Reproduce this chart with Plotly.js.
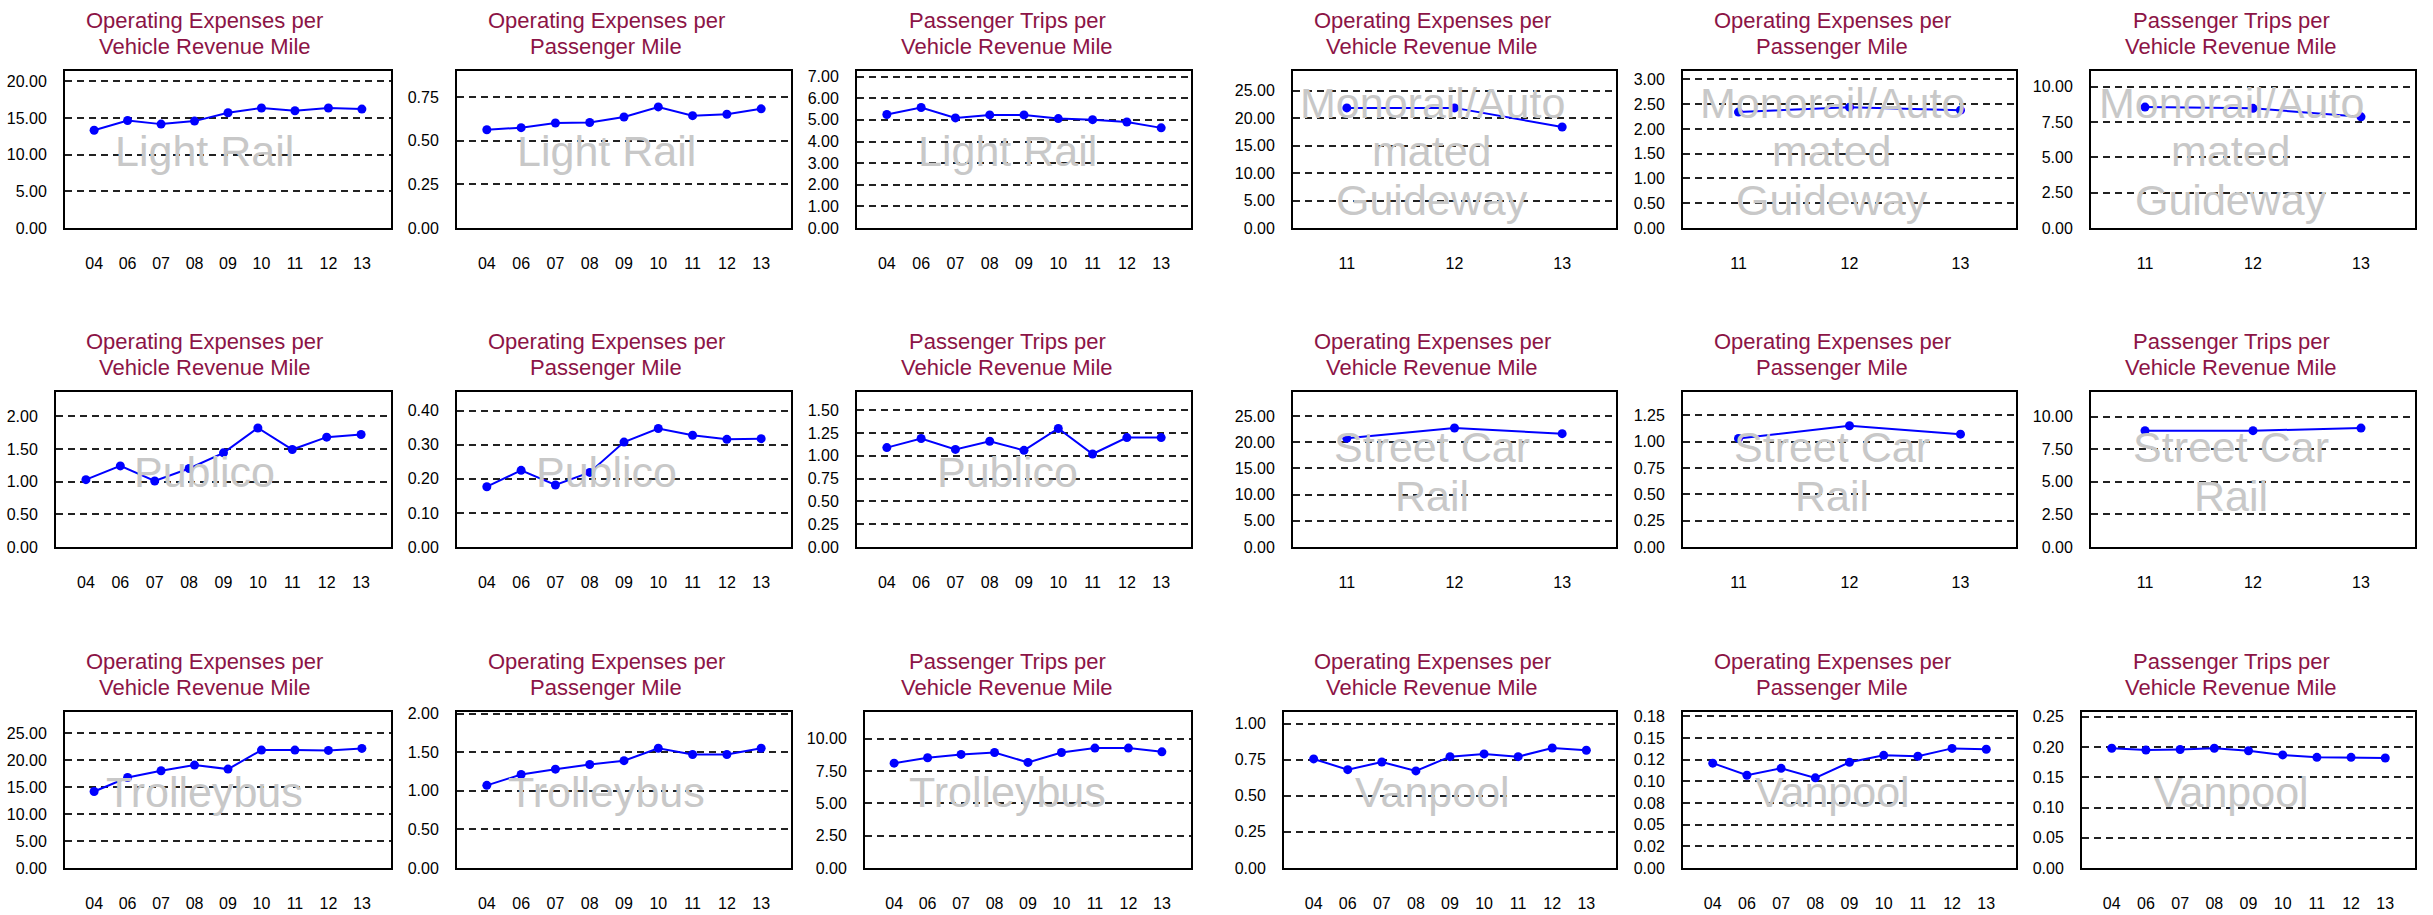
<!DOCTYPE html>
<html>
<head>
<meta charset="utf-8">
<script src="https://cdn.plot.ly/plotly-3.0.1.min.js"></script>
<style>html,body{margin:0;padding:0;background:#fff;}#chart{width:2433px;height:915px;}</style>
</head>
<body>
<div id="chart"></div>
<script>
// ---------------- DATA ----------------
const yearsFull = ["04", "06", "07", "08", "09", "10", "11", "12", "13"];
const yearsShort = ["11", "12", "13"];

const titleOpexVRM = ["Operating Expenses per", "Vehicle Revenue Mile"];
const titleOpexPM = ["Operating Expenses per", "Passenger Mile"];
const titleTrips = ["Passenger Trips per", "Vehicle Revenue Mile"];

const modeLightRail = ["Light Rail"];
const modeMonorail = ["Monorail/Auto", "mated", "Guideway"];
const modePublico = ["Publico"];
const modeStreetCar = ["Street Car", "Rail"];
const modeTrolleybus = ["Trolleybus"];
const modeVanpool = ["Vanpool"];

const lightRailOpexVRM = [13.33, 14.66, 14.16, 14.57, 15.71, 16.35, 15.98, 16.35, 16.21];
const lightRailOpexPM = [0.563, 0.575, 0.602, 0.605, 0.636, 0.694, 0.644, 0.652, 0.683];
const lightRailTrips = [5.25, 5.57, 5.09, 5.23, 5.23, 5.06, 5.01, 4.90, 4.63];

const monorailOpexVRM = [21.88, 21.88, 18.40];
const monorailOpexPM = [2.34, 2.44, 2.38];
const monorailTrips = [8.55, 8.46, 7.86];

const publicoOpexVRM = [1.03, 1.24, 1.01, 1.20, 1.44, 1.82, 1.49, 1.68, 1.72];
const publicoOpexPM = [0.177, 0.225, 0.182, 0.219, 0.308, 0.348, 0.328, 0.316, 0.318];
const publicoTrips = [1.09, 1.19, 1.07, 1.16, 1.06, 1.30, 1.02, 1.20, 1.20];

const streetCarOpexVRM = [20.75, 22.72, 21.64];
const streetCarOpexPM = [1.03, 1.15, 1.07];
const streetCarTrips = [8.93, 8.93, 9.13];

const trolleybusOpexVRM = [14.17, 16.77, 18.01, 19.06, 18.32, 21.84, 21.84, 21.78, 22.15];
const trolleybusOpexPM = [1.07, 1.21, 1.28, 1.34, 1.39, 1.55, 1.47, 1.47, 1.55];
const trolleybusTrips = [8.11, 8.53, 8.79, 8.94, 8.17, 8.94, 9.28, 9.28, 8.99];

const vanpoolOpexVRM = [0.755, 0.681, 0.734, 0.672, 0.771, 0.790, 0.771, 0.831, 0.815];
const vanpoolOpexPM = [0.121, 0.107, 0.115, 0.104, 0.122, 0.130, 0.129, 0.138, 0.137];
const vanpoolTrips = [0.198, 0.195, 0.196, 0.198, 0.194, 0.187, 0.183, 0.183, 0.182];

// custom tick labels for Vanpool OpEx per passenger mile
const vanpoolPMTickVals = [0, 0.025, 0.05, 0.075, 0.1, 0.125, 0.15, 0.175];
const vanpoolPMTickText = ["0.00", "0.02", "0.05", "0.08", "0.10", "0.12", "0.15", "0.18"];

// ---------------- PANELS ----------------
const panels = [
  {x: yearsFull,  y: lightRailOpexVRM,  title: titleOpexVRM, mode: modeLightRail, ymax: 21.4,  dtick: 5},
  {x: yearsFull,  y: lightRailOpexPM,   title: titleOpexPM,  mode: modeLightRail, ymax: 0.90,  dtick: 0.25},
  {x: yearsFull,  y: lightRailTrips,    title: titleTrips,   mode: modeLightRail, ymax: 7.26,  dtick: 1},
  {x: yearsShort, y: monorailOpexVRM,   title: titleOpexVRM, mode: modeMonorail,  ymax: 28.6,  dtick: 5},
  {x: yearsShort, y: monorailOpexPM,    title: titleOpexPM,  mode: modeMonorail,  ymax: 3.17,  dtick: 0.5},
  {x: yearsShort, y: monorailTrips,     title: titleTrips,   mode: modeMonorail,  ymax: 11.1,  dtick: 2.5},
  {x: yearsFull,  y: publicoOpexVRM,    title: titleOpexVRM, mode: modePublico,   ymax: 2.37,  dtick: 0.5},
  {x: yearsFull,  y: publicoOpexPM,     title: titleOpexPM,  mode: modePublico,   ymax: 0.455, dtick: 0.1},
  {x: yearsFull,  y: publicoTrips,      title: titleTrips,   mode: modePublico,   ymax: 1.70,  dtick: 0.25},
  {x: yearsShort, y: streetCarOpexVRM,  title: titleOpexVRM, mode: modeStreetCar, ymax: 29.6,  dtick: 5},
  {x: yearsShort, y: streetCarOpexPM,   title: titleOpexPM,  mode: modeStreetCar, ymax: 1.47,  dtick: 0.25},
  {x: yearsShort, y: streetCarTrips,    title: titleTrips,   mode: modeStreetCar, ymax: 11.9,  dtick: 2.5},
  {x: yearsFull,  y: trolleybusOpexVRM, title: titleOpexVRM, mode: modeTrolleybus, ymax: 28.9, dtick: 5},
  {x: yearsFull,  y: trolleybusOpexPM,  title: titleOpexPM,  mode: modeTrolleybus, ymax: 2.02, dtick: 0.5},
  {x: yearsFull,  y: trolleybusTrips,   title: titleTrips,   mode: modeTrolleybus, ymax: 12.07, dtick: 2.5},
  {x: yearsFull,  y: vanpoolOpexVRM,    title: titleOpexVRM, mode: modeVanpool,   ymax: 1.08,  dtick: 0.25},
  {x: yearsFull,  y: vanpoolOpexPM,     title: titleOpexPM,  mode: modeVanpool,   ymax: 0.18,  tickvals: vanpoolPMTickVals, ticktext: vanpoolPMTickText},
  {x: yearsFull,  y: vanpoolTrips,      title: titleTrips,   mode: modeVanpool,   ymax: 0.258, dtick: 0.05}
];

// ---------------- LAYOUT GEOMETRY (pixels) ----------------
const W = 2433, H = 915;
const boxLeft = [
  [65, 457, 857, 1293, 1683, 2091],
  [56, 457, 857, 1293, 1683, 2091],
  [65, 457, 865, 1284, 1683, 2082]
];
const boxRight = [391, 791, 1191, 1616, 2016, 2415];
const boxTop = [71, 392, 712];
const boxBottom = [228, 547, 868];
const labelCenterX = [205, 606, 1007, 1432, 1832, 2231];

const FONT = "'Liberation Sans', Arial, sans-serif";
const TITLE_COLOR = "#8c1446";
const px2x = p => p / W;
const px2y = p => 1 - p / H;

const data = [];
const layout = {
  width: W, height: H,
  margin: {l: 0, r: 0, t: 0, b: 0},
  paper_bgcolor: "#ffffff",
  plot_bgcolor: "#ffffff",
  showlegend: false,
  annotations: []
};

panels.forEach((p, i) => {
  const row = Math.floor(i / 6), col = i % 6;
  const n = i + 1;
  const sfx = n === 1 ? "" : String(n);
  const pad = p.x.length > 3 ? 0.87 : 0.5;
  data.push({
    type: "scatter", mode: "lines+markers",
    x: p.x, y: p.y,
    xaxis: "x" + sfx, yaxis: "y" + sfx,
    line: {color: "#0000ff", width: 2},
    marker: {color: "#0000ff", size: 9},
    cliponaxis: false,
    hoverinfo: "x+y"
  });
  layout["xaxis" + sfx] = {
    domain: [px2x(boxLeft[row][col]), px2x(boxRight[col])],
    anchor: "y" + sfx,
    type: "category",
    range: [-pad, p.x.length - 1 + pad],
    showgrid: false, zeroline: false,
    showline: true, mirror: true, linecolor: "#000", linewidth: 2,
    ticks: "", ticklabelstandoff: 20,
    tickfont: {family: FONT, size: 16, color: "#000"},
    fixedrange: true
  };
  const yax = {
    domain: [px2y(boxBottom[row]), px2y(boxTop[row])],
    anchor: "x" + sfx,
    range: [0, p.ymax],
    showgrid: true, griddash: "7px,5px", gridcolor: "#222", gridwidth: 2,
    zeroline: false,
    showline: true, mirror: true, linecolor: "#000", linewidth: 2,
    ticks: "", ticklabelstandoff: 13,
    tickfont: {family: FONT, size: 16, color: "#000"},
    fixedrange: true
  };
  if (p.tickvals) {
    yax.tickmode = "array"; yax.tickvals = p.tickvals; yax.ticktext = p.ticktext;
  } else {
    yax.tickmode = "linear"; yax.tick0 = 0; yax.dtick = p.dtick; yax.tickformat = ".2f";
  }
  layout["yaxis" + sfx] = yax;

  // titles (two lines)
  p.title.forEach((t, k) => {
    layout.annotations.push({
      text: t, xref: "paper", yref: "paper",
      x: px2x(labelCenterX[col]), y: px2y(boxTop[row] - 51 + k * 26.5),
      xanchor: "center", yanchor: "middle", showarrow: false,
      font: {family: FONT, size: 22, color: TITLE_COLOR}
    });
  });
  // watermark
  const cy = (boxTop[row] + boxBottom[row]) / 2;
  const m = p.mode.length;
  p.mode.forEach((t, k) => {
    layout.annotations.push({
      text: t, xref: "paper", yref: "paper",
      x: px2x(labelCenterX[col]), y: px2y(cy + 2 + (k - (m - 1) / 2) * 49),
      xanchor: "center", yanchor: "middle", showarrow: false,
      font: {family: FONT, size: 43, color: "#c8c8c8"}
    });
  });
});

Plotly.newPlot("chart", data, layout, {displayModeBar: false, staticPlot: true});
</script>
</body>
</html>
